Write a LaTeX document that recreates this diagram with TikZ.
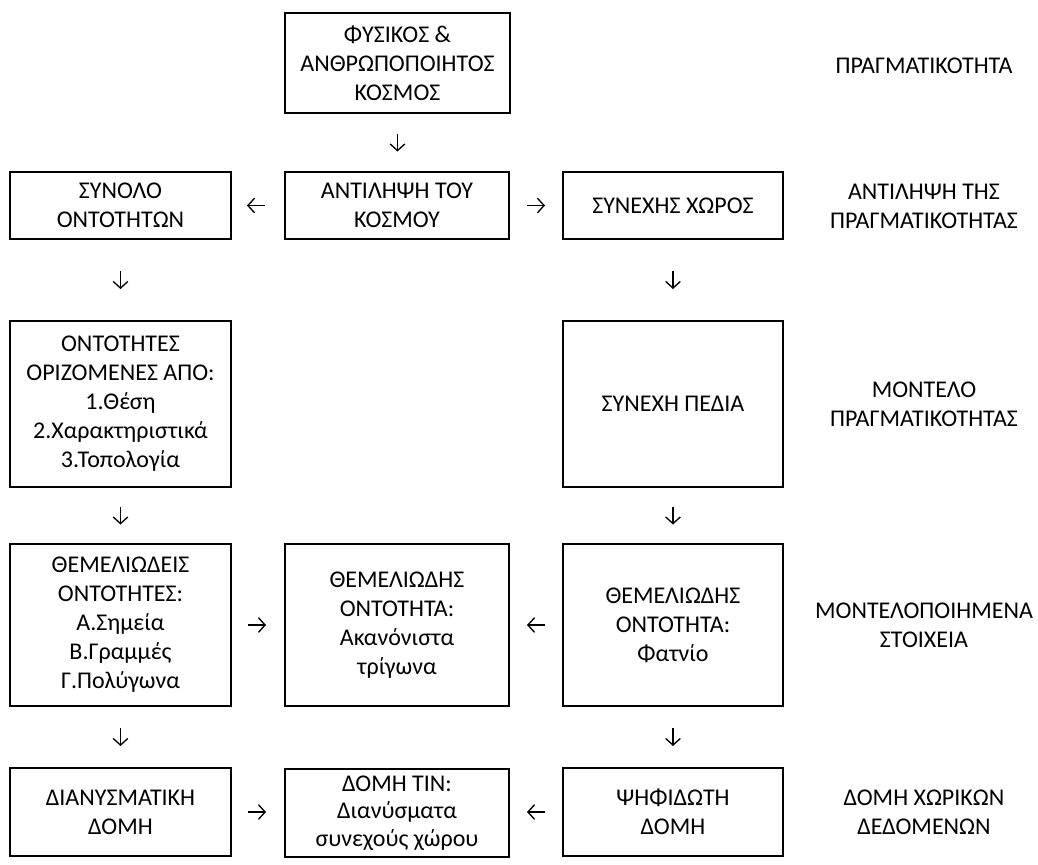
\documentclass[tikz,border=0pt]{standalone}
\usepackage{fontspec}
\setmainfont{Carlito}
\usetikzlibrary{arrows.meta}
\begin{document}
\begin{tikzpicture}[x=0.75pt,y=-0.75pt,
  txt/.style={font=\fontsize{18}{21.75}\selectfont, align=center, inner sep=0pt},
  box/.style={txt, draw=black, line width=1.5pt},
  boxL/.style={box, minimum width=165.75pt},
  boxM/.style={box, minimum width=168pt},
  boxR/.style={box, minimum width=165pt},
  glyph/.style={line width=1pt, -{Straight Barb[length=5pt,width=11pt,line width=1pt]}},
  side/.style={txt}]
\useasboundingbox (0,0) rectangle (1038,864);

% top box
\node[box, minimum width=168.75pt, minimum height=75pt] (world) at (397.5,63)
  {ΦΥΣΙΚΟΣ \&\\ΑΝΘΡΩΠΟΠΟΙΗΤΟΣ\\ΚΟΣΜΟΣ};

% second row
\node[boxL, minimum height=50.25pt] (set) at (120.5,205.5) {ΣΥΝΟΛΟ\\ΟΝΤΟΤΗΤΩΝ};
\node[boxM, minimum height=50.25pt] (perc) at (397,205.5) {ΑΝΤΙΛΗΨΗ ΤΟΥ\\ΚΟΣΜΟΥ};
\node[boxR, minimum height=50.25pt] (cont) at (673,205.5) {ΣΥΝΕΧΗΣ ΧΩΡΟΣ};

% third row
\node[boxL, minimum height=124.5pt] (ent) at (120.5,404)
  {ΟΝΤΟΤΗΤΕΣ\\ΟΡΙΖΟΜΕΝΕΣ ΑΠΌ:\\1.Θέση\\2.Χαρακτηριστικά\\3.Τοπολογία};
\node[boxR, minimum height=124.5pt] (fields) at (673,404) {ΣΥΝΕΧΗ ΠΕΔΙΑ};

% fourth row
\node[boxL, minimum height=121.5pt] (basic) at (120.5,625)
  {ΘΕΜΕΛΙΩΔΕΙΣ\\ΟΝΤΟΤΗΤΕΣ:\\Α.Σημεία\\Β.Γραμμές\\Γ.Πολύγωνα};
\node[boxM, minimum height=121.5pt] (tri) at (397,625)
  {ΘΕΜΕΛΙΩΔΗΣ\\ΟΝΤΟΤΗΤΑ:\\Ακανόνιστα\\τρίγωνα};
\node[boxR, minimum height=121.5pt] (cell) at (673,625)
  {ΘΕΜΕΛΙΩΔΗΣ\\ΟΝΤΟΤΗΤΑ:\\Φατνίο};

% fifth row
\node[boxL, minimum height=66pt] (vector) at (120.5,812) {ΔΙΑΝΥΣΜΑΤΙΚΗ\\ΔΟΜΗ};
\node[boxM, minimum height=66pt, font=\fontsize{18}{20.5}\selectfont] (tin) at (397,813)
  {ΔΟΜΗ ΤΙΝ:\\Διανύσματα\\συνεχούς χώρου};
\node[boxR, minimum height=66pt] (raster) at (673,812) {ΨΗΦΙΔΩΤΗ\\ΔΟΜΗ};

% short free-standing arrows in the gaps between boxes
\coordinate (a1s) at (397.5,133.5);  \coordinate (a1e) at (397.5,151.5);
\coordinate (a2s) at (265,205.5);    \coordinate (a2e) at (247,205.5);
\coordinate (a3s) at (527,205.5);    \coordinate (a3e) at (545,205.5);
\coordinate (a4s) at (120.5,271);    \coordinate (a4e) at (120.5,289);
\coordinate (a5s) at (673,271);      \coordinate (a5e) at (673,289);
\coordinate (a6s) at (120.5,506.5);  \coordinate (a6e) at (120.5,524.5);
\coordinate (a7s) at (673,506.5);    \coordinate (a7e) at (673,524.5);
\coordinate (a8s) at (248,625);      \coordinate (a8e) at (266,625);
\coordinate (a9s) at (545,625);      \coordinate (a9e) at (527,625);
\coordinate (a10s) at (120.5,728);   \coordinate (a10e) at (120.5,746);
\coordinate (a11s) at (673,728);     \coordinate (a11e) at (673,746);
\coordinate (a12s) at (248,812);     \coordinate (a12e) at (266,812);
\coordinate (a13s) at (545,812);     \coordinate (a13e) at (527,812);
\foreach \i in {1,...,13} { \draw[glyph] (a\i s) -- (a\i e); }

% level labels on the right
\node[side] (l1) at (924,66) {ΠΡΑΓΜΑΤΙΚΟΤΗΤΑ};
\node[side] (l2) at (924,206) {ΑΝΤΙΛΗΨΗ ΤΗΣ\\ΠΡΑΓΜΑΤΙΚΟΤΗΤΑΣ};
\node[side] (l3) at (924,404) {ΜΟΝΤΕΛΟ\\ΠΡΑΓΜΑΤΙΚΟΤΗΤΑΣ};
\node[side] (l4) at (924,625) {ΜΟΝΤΕΛΟΠΟΙΗΜΕΝΑ\\ΣΤΟΙΧΕΙΑ};
\node[side] (l5) at (924,812) {ΔΟΜΗ ΧΩΡΙΚΩΝ\\ΔΕΔΟΜΕΝΩΝ};
\end{tikzpicture}
\end{document}
